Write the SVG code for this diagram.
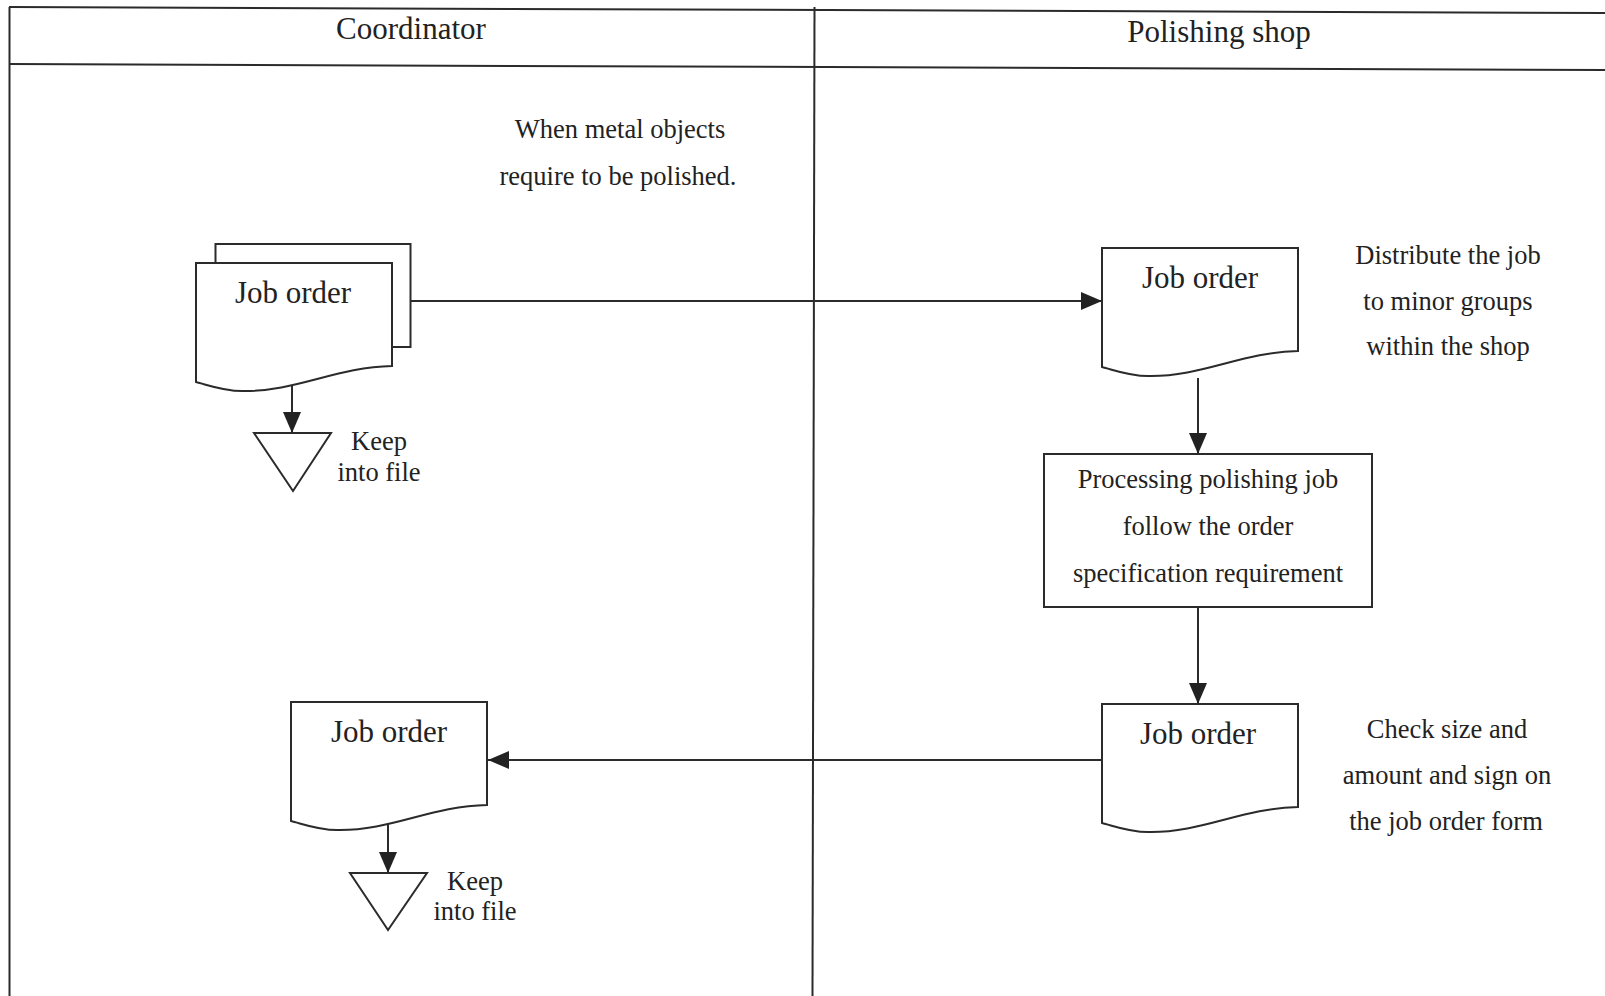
<svg xmlns="http://www.w3.org/2000/svg" xmlns:xlink="http://www.w3.org/1999/xlink" width="1605" height="996" viewBox="0 0 1605 996">
  <style>
    .ln { fill: none; stroke: #2b2b2b; stroke-width: 2; }
    .shape { fill: #ffffff; stroke: #2b2b2b; stroke-width: 2; }
    .head { font-family: "Liberation Serif", "Times New Roman", serif; font-size: 31px; fill: #222; text-anchor: middle; }
    .doc { font-family: "Liberation Serif", "Times New Roman", serif; font-size: 31px; fill: #222; text-anchor: middle; }
    .txt { font-family: "Liberation Serif", "Times New Roman", serif; font-size: 26.5px; fill: #222; text-anchor: middle; }
  </style>
  <defs>
    <!-- document shape: flat top, wavy bottom edge -->
    <path id="docShape" d="M0,0 H196 V103 C140,104 100,129 46,128 C27,128 12,122 0,119 Z"/>
    <marker id="arrow" markerUnits="userSpaceOnUse" markerWidth="24" markerHeight="20" refX="21" refY="9" orient="auto">
      <path d="M0,0 L21,9 L0,18 Z" fill="#222"/>
    </marker>
  </defs>

  <rect width="1605" height="996" fill="#ffffff"/>

  <!-- swimlane frame -->
  <g id="lanes">
    <line class="ln" x1="9" y1="7" x2="1605" y2="13"/>
    <line class="ln" x1="9" y1="64" x2="1605" y2="70"/>
    <line class="ln" x1="9.5" y1="7" x2="9.5" y2="996"/>
    <line class="ln" x1="814.5" y1="7" x2="812.5" y2="996"/>
    <text class="head" x="411" y="39">Coordinator</text>
    <text class="head" x="1219" y="42">Polishing shop</text>
  </g>

  <!-- connectors -->
  <g id="connectors">
    <line class="ln" x1="408" y1="301" x2="1102" y2="301" marker-end="url(#arrow)"/>
    <line class="ln" x1="292" y1="378" x2="292" y2="433" marker-end="url(#arrow)"/>
    <line class="ln" x1="1198" y1="378" x2="1198" y2="454" marker-end="url(#arrow)"/>
    <line class="ln" x1="1198" y1="607" x2="1198" y2="704" marker-end="url(#arrow)"/>
    <line class="ln" x1="1101" y1="760" x2="488" y2="760" marker-end="url(#arrow)"/>
    <line class="ln" x1="388" y1="816" x2="388" y2="873" marker-end="url(#arrow)"/>
  </g>

  <!-- coordinator: multi-copy job order -->
  <g id="job-order-1">
    <rect class="shape" x="215.5" y="244" width="195" height="103"/>
    <use href="#docShape" class="shape" transform="translate(196,263)"/>
    <text class="doc" x="293" y="303">Job order</text>
  </g>

  <g id="note-request">
    <text class="txt" x="620" y="138">When metal objects</text>
    <text class="txt" x="618" y="185">require to be polished.</text>
  </g>

  <g id="file-1">
    <polygon class="shape" points="254,433 331,433 293,491"/>
    <text class="txt" x="379" y="450">Keep</text>
    <text class="txt" x="379" y="481">into file</text>
  </g>

  <!-- polishing shop: received job order -->
  <g id="job-order-2">
    <use href="#docShape" class="shape" transform="translate(1102,248)"/>
    <text class="doc" x="1200" y="288">Job order</text>
  </g>

  <g id="note-distribute">
    <text class="txt" x="1448" y="264">Distribute the job</text>
    <text class="txt" x="1448" y="310">to minor groups</text>
    <text class="txt" x="1448" y="355">within the shop</text>
  </g>

  <g id="process-polishing">
    <rect class="shape" x="1044" y="454" width="328" height="153"/>
    <text class="txt" x="1208" y="488">Processing polishing job</text>
    <text class="txt" x="1208" y="535">follow the order</text>
    <text class="txt" x="1208" y="582">specification requirement</text>
  </g>

  <g id="job-order-3">
    <use href="#docShape" class="shape" transform="translate(1102,704)"/>
    <text class="doc" x="1198" y="744">Job order</text>
  </g>

  <g id="note-check">
    <text class="txt" x="1447" y="738">Check size and</text>
    <text class="txt" x="1447" y="784">amount and sign on</text>
    <text class="txt" x="1446" y="830">the job order form</text>
  </g>

  <!-- coordinator: returned job order -->
  <g id="job-order-4">
    <use href="#docShape" class="shape" transform="translate(291,702)"/>
    <text class="doc" x="389" y="742">Job order</text>
  </g>

  <g id="file-2">
    <polygon class="shape" points="350,873 427,873 388,930"/>
    <text class="txt" x="475" y="890">Keep</text>
    <text class="txt" x="475" y="920">into file</text>
  </g>
</svg>
